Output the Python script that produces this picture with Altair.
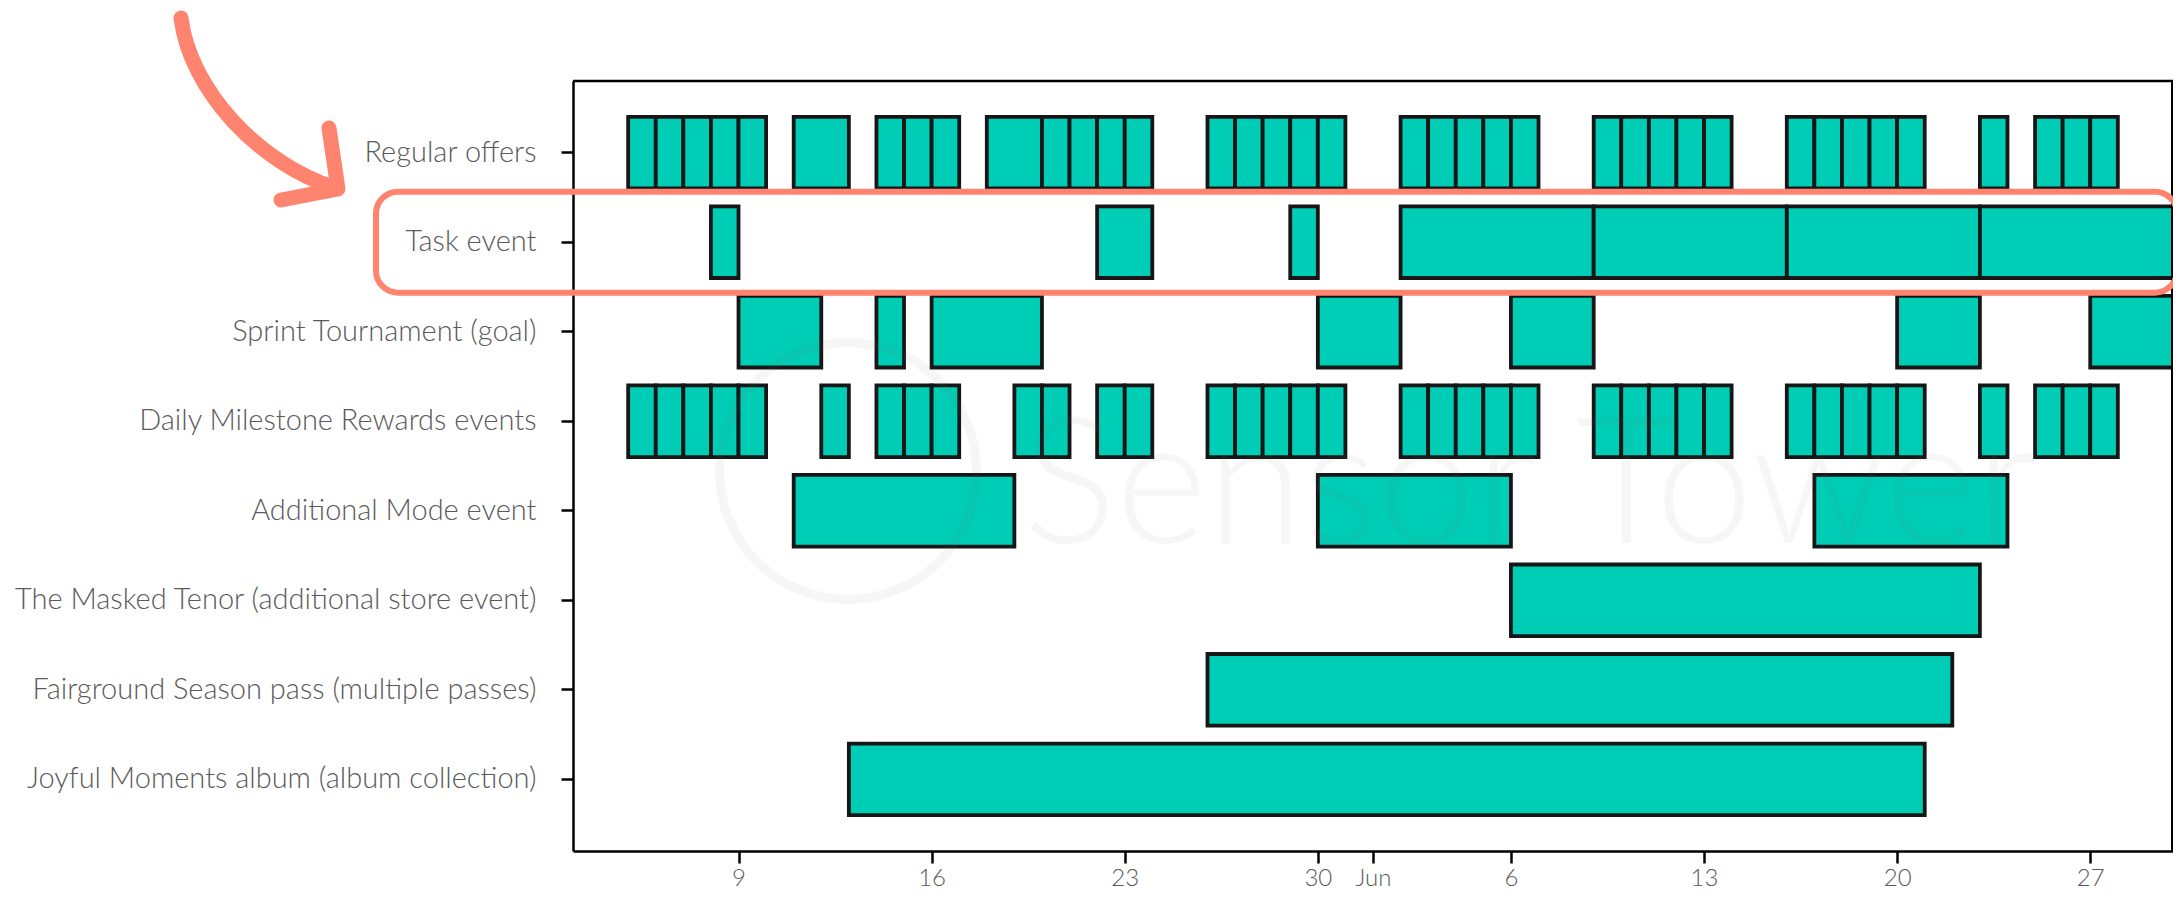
import altair as alt
import pandas as pd

# ---- data (year 2021, UTC dates) ----
categories = [
    "Regular offers",
    "Task event",
    "Sprint Tournament (goal)",
    "Daily Milestone Rewards events",
    "Additional Mode event",
    "The Masked Tenor (additional store event)",
    "Fairground Season pass (multiple passes)",
    "Joyful Moments album (album collection)",
]

regular_offers = [
    ("2021-05-05", "2021-05-06"), ("2021-05-06", "2021-05-07"), ("2021-05-07", "2021-05-08"),
    ("2021-05-08", "2021-05-09"), ("2021-05-09", "2021-05-10"),
    ("2021-05-11", "2021-05-13"),
    ("2021-05-14", "2021-05-15"), ("2021-05-15", "2021-05-16"), ("2021-05-16", "2021-05-17"),
    ("2021-05-18", "2021-05-20"), ("2021-05-20", "2021-05-21"), ("2021-05-21", "2021-05-22"),
    ("2021-05-22", "2021-05-23"), ("2021-05-23", "2021-05-24"),
    ("2021-05-26", "2021-05-27"), ("2021-05-27", "2021-05-28"), ("2021-05-28", "2021-05-29"),
    ("2021-05-29", "2021-05-30"), ("2021-05-30", "2021-05-31"),
    ("2021-06-02", "2021-06-03"), ("2021-06-03", "2021-06-04"), ("2021-06-04", "2021-06-05"),
    ("2021-06-05", "2021-06-06"), ("2021-06-06", "2021-06-07"),
    ("2021-06-09", "2021-06-10"), ("2021-06-10", "2021-06-11"), ("2021-06-11", "2021-06-12"),
    ("2021-06-12", "2021-06-13"), ("2021-06-13", "2021-06-14"),
    ("2021-06-16", "2021-06-17"), ("2021-06-17", "2021-06-18"), ("2021-06-18", "2021-06-19"),
    ("2021-06-19", "2021-06-20"), ("2021-06-20", "2021-06-21"),
    ("2021-06-23", "2021-06-24"),
    ("2021-06-25", "2021-06-26"), ("2021-06-26", "2021-06-27"), ("2021-06-27", "2021-06-28"),
    ("2021-06-30", "2021-07-01"),
]

task_event = [
    ("2021-05-08", "2021-05-09"),
    ("2021-05-22", "2021-05-24"),
    ("2021-05-29", "2021-05-30"),
    ("2021-06-02", "2021-06-09"),
    ("2021-06-09", "2021-06-16"),
    ("2021-06-16", "2021-06-23"),
    ("2021-06-23", "2021-07-01"),
]

sprint_tournament = [
    ("2021-05-09", "2021-05-12"),
    ("2021-05-14", "2021-05-15"),
    ("2021-05-16", "2021-05-20"),
    ("2021-05-30", "2021-06-02"),
    ("2021-06-06", "2021-06-09"),
    ("2021-06-20", "2021-06-23"),
    ("2021-06-27", "2021-07-01"),
]

daily_milestone = [
    ("2021-05-05", "2021-05-06"), ("2021-05-06", "2021-05-07"), ("2021-05-07", "2021-05-08"),
    ("2021-05-08", "2021-05-09"), ("2021-05-09", "2021-05-10"),
    ("2021-05-12", "2021-05-13"),
    ("2021-05-14", "2021-05-15"), ("2021-05-15", "2021-05-16"), ("2021-05-16", "2021-05-17"),
    ("2021-05-19", "2021-05-20"), ("2021-05-20", "2021-05-21"),
    ("2021-05-22", "2021-05-23"), ("2021-05-23", "2021-05-24"),
    ("2021-05-26", "2021-05-27"), ("2021-05-27", "2021-05-28"), ("2021-05-28", "2021-05-29"),
    ("2021-05-29", "2021-05-30"), ("2021-05-30", "2021-05-31"),
    ("2021-06-02", "2021-06-03"), ("2021-06-03", "2021-06-04"), ("2021-06-04", "2021-06-05"),
    ("2021-06-05", "2021-06-06"), ("2021-06-06", "2021-06-07"),
    ("2021-06-09", "2021-06-10"), ("2021-06-10", "2021-06-11"), ("2021-06-11", "2021-06-12"),
    ("2021-06-12", "2021-06-13"), ("2021-06-13", "2021-06-14"),
    ("2021-06-16", "2021-06-17"), ("2021-06-17", "2021-06-18"), ("2021-06-18", "2021-06-19"),
    ("2021-06-19", "2021-06-20"), ("2021-06-20", "2021-06-21"),
    ("2021-06-23", "2021-06-24"),
    ("2021-06-25", "2021-06-26"), ("2021-06-26", "2021-06-27"), ("2021-06-27", "2021-06-28"),
    ("2021-06-30", "2021-07-01"),
]

additional_mode = [
    ("2021-05-11", "2021-05-19"),
    ("2021-05-30", "2021-06-06"),
    ("2021-06-17", "2021-06-24"),
]

masked_tenor = [("2021-06-06", "2021-06-23")]
fairground_pass = [("2021-05-26", "2021-06-22")]
joyful_album = [("2021-05-13", "2021-06-21")]

tick_dates = ["2021-05-09", "2021-05-16", "2021-05-23", "2021-05-30", "2021-06-01",
              "2021-06-06", "2021-06-13", "2021-06-20", "2021-06-27"]
domain_dates = ["2021-05-03", "2021-06-30"]

# ---- build table ----
series = [regular_offers, task_event, sprint_tournament, daily_milestone,
          additional_mode, masked_tenor, fairground_pass, joyful_album]
rows = []
for cat, segs in zip(categories, series):
    for s, e in segs:
        rows.append({"event": cat, "start": s, "end": e})
df = pd.DataFrame(rows)


def dt(s):
    y, m, d = (int(v) for v in s.split("-"))
    return alt.DateTime(year=y, month=m, date=d, utc=True)


TEAL = "#00CDB5"
SALMON = "#FF8470"
LABEL_GRAY = "#5a5a5a"
FONT = "Lato"
W, H = 1600, 770

x_scale = alt.Scale(type="utc", domain=[dt(d) for d in domain_dates], nice=False)
y_scale = alt.Scale(domain=categories, paddingInner=0.2, paddingOuter=0.4)

bars = alt.Chart(df).mark_bar(
    fill=TEAL, stroke="#161616", strokeWidth=3.8, clip=True, cornerRadius=0
).encode(
    x=alt.X(
        "start:T",
        scale=x_scale,
        title=None,
        axis=alt.Axis(
            values=[dt(d) for d in tick_dates],
            labelExpr="utcdate(datum.value) == 1 ? utcFormat(datum.value, '%b') : utcFormat(datum.value, '%-d')",
            grid=False,
            tickSize=12,
            tickWidth=2.5,
            tickColor="#000",
            domainColor="#000",
            domainWidth=2.5,
            labelPadding=3,
            labelFontSize=24,
            labelFont=FONT,
            labelFontWeight=300,
            labelColor=LABEL_GRAY,
        ),
    ),
    x2="end:T",
    y=alt.Y(
        "event:N",
        scale=y_scale,
        sort=categories,
        title=None,
        axis=alt.Axis(
            grid=False,
            tickSize=12,
            tickWidth=2.5,
            tickColor="#000",
            domainColor="#000",
            domainWidth=2.5,
            labelPadding=25,
            labelFontSize=29,
            labelFont=FONT,
            labelFontWeight=300,
            labelColor=LABEL_GRAY,
            labelLimit=0,
        ),
    ),
)

one = pd.DataFrame({"event": ["Task event"], "wm": ["Sensor Tower"]})

# plot frame: top and right borders
top_border = alt.Chart(one).mark_rule(color="#000", strokeWidth=2.5).encode(
    x=alt.value(0), x2=alt.value(W), y=alt.value(0)
)
right_border = alt.Chart(one).mark_rule(color="#000", strokeWidth=2).encode(
    x=alt.value(W - 1), y=alt.value(0), y2=alt.value(H)
)

# faint watermark
watermark_text = alt.Chart(one).mark_text(
    fontSize=175, font=FONT, fontWeight=300, color="#777", opacity=0.06,
    align="left", baseline="alphabetic",
).encode(text="wm:N", x=alt.value(450), y=alt.value(462))

watermark_logo = alt.Chart(one).mark_point(
    shape="circle", size=66000, filled=False, stroke="#777", strokeWidth=9, opacity=0.06,
).encode(x=alt.value(275), y=alt.value(390))

# highlight box around the "Task event" row
highlight = alt.Chart(one).mark_bar(
    filled=False, stroke=SALMON, strokeWidth=6, cornerRadius=22, height=101,
).encode(
    y=alt.Y("event:N", scale=y_scale, sort=categories),
    x=alt.value(-197),
    x2=alt.value(1604),
)

# curved arrow pointing to the highlighted row
arrow_path = ("M-0.79,-0.9 C-0.7,-0.18 -0.02,0.55 0.75,0.8 "
              "M0.69,0.2 L0.78,0.81 L0.21,0.92")
arrow = alt.Chart(one).mark_point(
    shape=arrow_path, size=40000, filled=False, stroke=SALMON, strokeWidth=15,
    strokeCap="round", strokeJoin="round", opacity=1,
).encode(x=alt.value(-313), y=alt.value(27))

chart = alt.layer(
    bars, top_border, right_border, watermark_logo, watermark_text, highlight, arrow
).properties(
    width=W,
    height=H,
    autosize=alt.AutoSizeParams(type="none"),
    padding={"left": 565, "top": 73, "right": 0, "bottom": 40},
).configure_view(
    stroke="#000", strokeWidth=2.5
).configure(background="white")

chart.save("out.html", embed_options={"renderer": "svg", "actions": False})
